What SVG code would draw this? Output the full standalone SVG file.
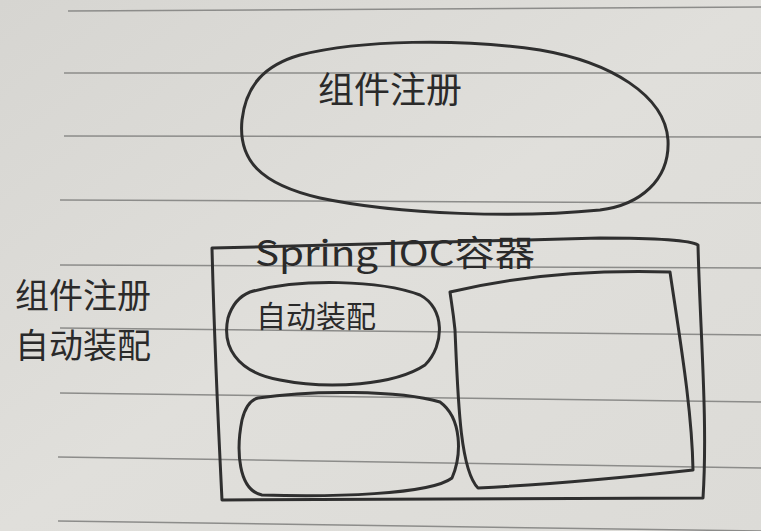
<svg xmlns="http://www.w3.org/2000/svg" width="761" height="531" viewBox="0 0 761 531">
<style>
.pen{fill:none;stroke:#2f2f2f;stroke-width:3;stroke-linecap:round;stroke-linejoin:round}
.rule{stroke:#8c8c8a;stroke-width:1.5}
.hw{font-family:"Noto Sans CJK SC","Liberation Sans",sans-serif;fill:#2a2a2a}
</style>
<defs>
<linearGradient id="paper" x1="0" y1="0" x2="1" y2="1">
<stop offset="0" stop-color="#d6d5d1"/>
<stop offset="0.5" stop-color="#e0dfdb"/>
<stop offset="1" stop-color="#dcdbd7"/>
</linearGradient>
</defs>
<rect width="761" height="531" fill="url(#paper)"/>
<g id="rules">
<line class="rule" x1="68" y1="11" x2="761" y2="7"/>
<line class="rule" x1="64" y1="73" x2="761" y2="73"/>
<line class="rule" x1="64" y1="136" x2="761" y2="137"/>
<line class="rule" x1="60" y1="200" x2="761" y2="203"/>
<line class="rule" x1="60" y1="265" x2="761" y2="268"/>
<line class="rule" x1="60" y1="328" x2="761" y2="335"/>
<line class="rule" x1="60" y1="393" x2="761" y2="402"/>
<line class="rule" x1="58" y1="457" x2="761" y2="468"/>
<line class="rule" x1="58" y1="521" x2="761" y2="531"/>
</g>
<g id="component-registration-top">
<path class="pen" d="M300,55 C360,40 460,38 540,50 C610,62 665,95 668,140 C670,180 640,205 600,210 C520,218 400,215 320,198 C260,184 238,160 242,120 C246,85 265,65 300,55 Z"/>
<text class="hw" x="318" y="103" font-size="36">组件注册</text>
</g>
<g id="spring-ioc-container">
<path class="pen" d="M212,248 C350,245 500,240 600,238 C650,238 690,240 698,245 C700,330 708,420 703,498 C560,500 400,499 222,500 C218,420 214,330 212,248 Z"/>
<text class="hw" x="255" y="266" font-size="35" textLength="280" lengthAdjust="spacingAndGlyphs">Spring IOC容器</text>
</g>
<g id="auto-wiring">
<path class="pen" d="M250,292 C300,278 380,280 420,295 C445,308 445,345 425,365 C395,385 330,390 280,380 C235,372 222,345 228,318 C232,305 240,296 250,292 Z"/>
<text class="hw" x="256" y="327" font-size="30">自动装配</text>
</g>
<g id="right-box">
<path class="pen" d="M450,292 C520,275 600,270 670,272 C680,340 692,410 693,470 C620,478 540,485 478,488 C460,470 458,400 455,330 C453,310 451,300 450,292 Z"/>
</g>
<g id="bottom-left-box">
<path class="pen" d="M258,398 C310,390 400,390 440,402 C462,418 462,455 452,478 C430,495 330,497 262,495 C238,490 236,450 242,420 C245,408 250,400 258,398 Z"/>
</g>
<g id="legend">
<text class="hw" x="15" y="308" font-size="34">组件注册</text>
<text class="hw" x="15" y="358" font-size="34">自动装配</text>
</g>
</svg>
